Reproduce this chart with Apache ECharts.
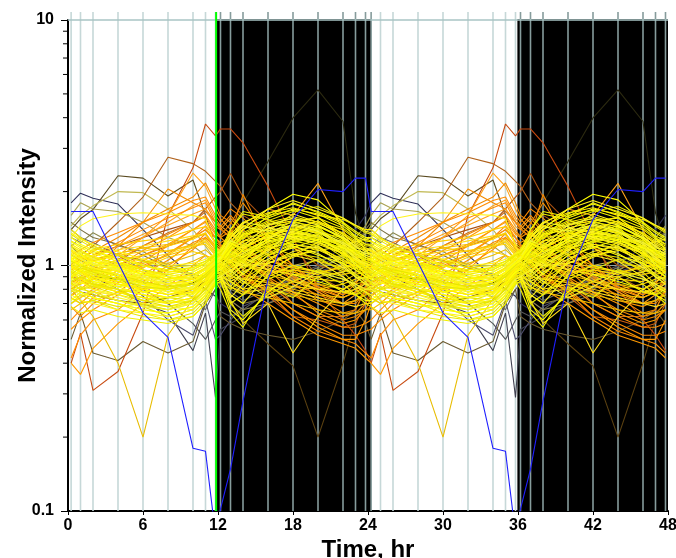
<!DOCTYPE html>
<html><head><meta charset="utf-8">
<script src="https://cdn.jsdelivr.net/npm/echarts@6/dist/echarts.min.js"></script>
<style>html,body{margin:0;padding:0;background:#fff}#c{width:676px;height:558px}</style>
</head><body><div id="c"></div>
<script>
// sampling times within one 24 h cycle (data are double-plotted over 48 h)
const sampleTimes = [0.25,1,2,4,6,8,10,11,11.8,12.2,13,14,16,18,20,22,23,23.8];
const xTickLabels = [0,6,12,18,24,30,36,42,48];
const yTickLabels = [0.1,1,10];
const darkPeriods = [[11.9,24.25],[35.95,48]];
const lightsOffTime = 11.85;
const minorTickValues = [0.2,0.3,0.4,0.5,0.6,0.7,0.8,0.9,2,3,4,5,6,7,8,9];

const yellowLines = [
 [1.05,0.98,0.92,0.86,0.80,0.76,0.82,0.88,0.97,1.02,1.08,1.18,1.32,1.41,1.36,1.22,1.12,1.06],
 [0.92,0.88,0.83,0.78,0.74,0.71,0.77,0.84,0.93,0.96,1.02,1.12,1.28,1.46,1.38,1.20,1.05,0.98],
 [1.12,1.06,1.00,0.92,0.85,0.82,0.86,0.90,1.00,1.05,1.15,1.25,1.42,1.50,1.44,1.30,1.20,1.14],
 [0.85,0.80,0.78,0.72,0.69,0.66,0.70,0.78,0.90,0.92,0.95,1.05,1.20,1.32,1.30,1.12,0.98,0.90],
 [1.20,1.12,1.04,0.95,0.88,0.84,0.88,0.94,1.04,1.08,1.20,1.32,1.48,1.55,1.48,1.36,1.26,1.20],
 [0.98,1.02,0.90,0.82,0.84,0.76,0.80,0.92,0.98,1.00,0.92,1.10,1.25,1.30,1.38,1.18,1.08,1.00],
 [1.00,0.92,0.95,0.88,0.78,0.80,0.74,0.86,1.02,1.06,1.12,1.02,1.36,1.28,1.44,1.16,1.15,1.02],
 [0.88,0.95,0.85,0.80,0.76,0.72,0.70,0.82,0.95,0.98,0.88,0.96,1.18,1.36,1.26,1.08,1.02,0.94],
 [1.15,1.08,1.10,0.98,0.90,0.86,0.92,0.96,1.06,1.10,1.22,1.18,1.38,1.62,1.50,1.32,1.18,1.16],
 [0.95,0.90,0.86,0.82,0.88,0.78,0.84,0.90,1.00,1.04,0.98,1.08,1.22,1.34,1.28,1.26,1.12,1.04],
 [1.08,1.00,0.94,0.96,0.84,0.82,0.78,0.92,1.04,1.06,1.16,1.26,1.30,1.48,1.58,1.28,1.14,1.10],
 [0.80,0.78,0.74,0.70,0.66,0.64,0.68,0.76,0.88,0.90,0.86,0.92,1.10,1.22,1.18,1.02,0.92,0.86],
 [1.25,1.18,1.12,1.04,0.96,0.90,0.94,1.00,1.08,1.12,1.26,1.40,1.56,1.70,1.62,1.45,1.32,1.26],
 [0.96,0.92,0.98,0.90,0.82,0.86,0.80,0.88,0.96,0.98,1.06,0.98,1.12,1.26,1.34,1.10,1.06,1.00],
 [1.02,1.08,0.96,0.92,0.90,0.80,0.86,0.94,1.00,1.02,0.94,1.04,1.30,1.38,1.30,1.24,1.10,1.04],
 [0.90,0.86,0.82,0.76,0.72,0.74,0.72,0.80,0.92,0.94,1.00,1.10,1.24,1.30,1.42,1.16,1.00,0.94],
 [1.10,1.04,0.98,0.90,0.86,0.78,0.82,0.90,0.98,1.04,1.10,1.22,1.36,1.44,1.36,1.30,1.16,1.12],
 [0.86,0.82,0.80,0.74,0.70,0.68,0.66,0.74,0.86,0.88,0.82,0.94,1.06,1.20,1.12,0.98,0.90,0.88],
 [1.30,1.22,1.16,1.06,1.00,0.94,0.98,1.02,1.10,1.14,1.30,1.44,1.62,1.78,1.66,1.50,1.38,1.30],
 [0.94,1.00,0.92,0.86,0.80,0.82,0.84,0.90,0.98,1.00,1.08,1.14,1.20,1.28,1.24,1.12,1.04,0.98],
 [1.04,0.96,1.02,0.94,0.86,0.80,0.76,0.86,0.98,1.00,1.04,1.16,1.42,1.36,1.32,1.20,1.12,1.06],
 [0.78,0.82,0.76,0.72,0.68,0.62,0.66,0.74,0.86,0.88,0.92,1.00,1.16,1.26,1.20,1.04,0.90,0.84],
 [1.16,1.10,1.06,1.00,0.92,0.88,0.90,0.98,1.06,1.08,1.18,1.30,1.46,1.52,1.56,1.34,1.24,1.18],
 [0.92,0.94,0.88,0.80,0.78,0.74,0.76,0.86,0.94,0.96,0.90,1.00,1.14,1.40,1.30,1.14,1.00,0.96],
 [1.06,1.12,1.00,0.98,0.92,0.86,0.90,0.96,1.02,1.06,1.14,1.08,1.26,1.32,1.26,1.18,1.14,1.08],
 [0.84,0.80,0.84,0.78,0.72,0.70,0.72,0.80,0.90,0.92,0.98,1.06,1.18,1.24,1.36,1.10,0.96,0.90],
 [1.00,0.96,0.90,0.84,0.82,0.78,0.80,0.88,0.96,1.00,1.10,1.20,1.30,1.36,1.30,1.20,1.08,1.02],
 [0.74,0.70,0.72,0.66,0.62,0.60,0.64,0.72,0.84,0.86,0.80,0.88,1.02,1.12,1.08,0.94,0.84,0.78],
 [1.22,1.16,1.08,1.02,0.94,0.92,0.88,0.98,1.06,1.10,1.22,1.34,1.50,1.58,1.50,1.40,1.28,1.22],
 [0.96,0.90,0.94,0.88,0.84,0.78,0.82,0.92,1.00,1.02,1.06,1.12,1.28,1.48,1.40,1.22,1.06,1.00],
 [1.10,1.02,0.96,0.90,0.84,0.80,0.86,0.92,1.02,1.06,1.20,1.40,1.70,1.95,1.85,1.50,1.30,1.16],
 [0.82,0.78,0.74,0.70,0.64,0.60,0.62,0.70,0.86,0.80,0.64,0.56,0.82,0.74,0.90,0.78,0.76,0.80],
 [1.30,1.45,1.55,1.62,1.64,1.62,1.60,1.55,1.20,1.10,1.05,1.00,1.02,1.10,1.15,1.20,1.25,1.28],
 [0.70,0.76,0.72,0.68,0.70,0.66,0.72,0.80,0.92,0.94,0.70,0.62,0.76,0.86,0.96,0.90,0.80,0.74],
 [1.40,1.30,1.20,1.10,1.00,0.94,0.96,1.02,1.12,1.16,1.34,1.50,1.64,1.72,1.60,1.54,1.46,1.40],
 [1.18,1.10,1.02,0.96,0.90,0.84,0.80,0.88,1.00,1.06,1.30,1.50,1.44,1.30,1.24,1.16,1.10,1.14],
 [0.88,0.84,0.90,0.84,0.78,0.74,0.78,0.86,0.94,0.98,1.16,1.34,1.40,1.20,1.10,1.02,0.96,0.90],
 [1.02,0.96,0.92,0.88,0.92,0.86,0.90,0.96,1.04,1.10,1.40,1.62,1.54,1.40,1.30,1.20,1.10,1.04],
 [0.76,0.72,0.70,0.66,0.64,0.62,0.66,0.76,0.88,0.90,0.76,0.70,0.92,1.10,1.04,0.90,0.82,0.78],
 [1.34,1.26,1.18,1.10,1.04,0.98,1.00,1.04,1.10,1.12,1.22,1.36,1.52,1.66,1.74,1.56,1.44,1.36],
 [0.98,0.94,0.90,0.86,0.80,0.76,0.78,0.86,0.96,1.00,0.86,0.80,1.04,1.22,1.16,1.04,1.00,0.98],
 [1.08,1.14,1.06,1.00,0.94,0.90,0.94,1.00,1.06,1.08,1.26,1.20,1.46,1.56,1.46,1.30,1.20,1.10],
 [0.90,0.96,0.86,0.82,0.76,0.70,0.74,0.84,0.94,0.96,1.04,0.92,1.10,1.18,1.28,1.14,1.02,0.92],
 [1.20,1.14,1.08,1.02,0.96,0.92,0.96,1.02,1.10,1.14,1.36,1.28,1.60,1.68,1.56,1.42,1.30,1.22],
 [0.82,0.86,0.80,0.76,0.70,0.68,0.70,0.78,0.90,0.92,0.74,0.84,1.02,1.14,1.20,1.00,0.90,0.84],
 [1.04,1.00,0.96,0.92,0.86,0.82,0.84,0.92,1.00,1.04,1.18,1.30,1.34,1.52,1.40,1.26,1.14,1.06],
 [0.94,0.88,0.84,0.78,0.74,0.70,0.74,0.82,0.92,0.94,0.82,0.76,0.96,1.08,1.18,1.06,0.98,0.94],
 [1.12,1.06,1.02,0.96,0.90,0.86,0.90,0.96,1.04,1.08,1.24,1.44,1.38,1.46,1.38,1.24,1.16,1.12],
 [0.72,0.78,0.74,0.70,0.66,0.64,0.68,0.76,0.86,0.88,0.66,0.60,0.78,0.92,0.86,0.80,0.76,0.72],
 [1.26,1.20,1.14,1.06,1.00,0.96,0.98,1.04,1.12,1.16,1.40,1.66,1.58,1.80,1.64,1.48,1.36,1.28],
 [1.00,1.04,0.98,0.92,0.88,0.84,0.86,0.94,1.02,1.04,0.96,1.02,1.16,1.30,1.22,1.12,1.06,1.02],
 [0.86,0.90,0.84,0.80,0.72,0.68,0.72,0.80,0.90,0.92,1.10,1.04,0.88,0.96,1.06,0.96,0.92,0.88],
 [1.14,1.08,1.04,1.00,0.94,0.88,0.92,0.98,1.06,1.10,1.04,1.16,1.34,1.40,1.52,1.34,1.22,1.16],
 [0.80,0.76,0.78,0.72,0.68,0.66,0.70,0.78,0.88,0.90,0.96,0.86,0.74,0.82,0.94,0.88,0.84,0.80],
 [1.06,1.00,1.04,0.98,0.92,0.90,0.86,0.94,1.02,1.06,1.24,1.14,1.28,1.34,1.46,1.28,1.16,1.08],
 [0.68,0.64,0.66,0.62,0.60,0.58,0.62,0.70,0.84,0.86,0.70,0.76,0.90,1.00,0.94,0.84,0.76,0.70],
 [1.36,1.28,1.22,1.14,1.06,1.00,1.02,1.06,1.12,1.14,1.30,1.48,1.70,1.84,1.70,1.56,1.46,1.38],
 [0.92,0.98,0.94,0.88,0.82,0.80,0.84,0.90,0.98,1.00,1.12,1.22,1.10,1.24,1.30,1.16,1.04,0.96],
 [1.00,0.94,0.88,0.84,0.80,0.76,0.80,0.88,0.98,1.02,0.92,0.84,1.20,1.10,1.24,1.12,1.04,1.00]
];
const goldLines = [
 [0.90,0.95,1.00,1.05,1.10,1.15,1.20,1.22,1.10,1.05,0.95,0.88,0.85,0.82,0.80,0.84,0.88,0.90],
 [0.80,0.84,0.88,0.95,1.02,1.10,1.18,1.25,1.12,1.08,1.02,0.92,0.86,0.80,0.76,0.74,0.78,0.80],
 [1.00,1.04,1.10,1.16,1.20,1.26,1.32,1.35,1.18,1.15,1.10,1.02,0.96,0.92,0.90,0.94,0.98,1.00],
 [0.76,0.80,0.82,0.86,0.90,0.96,1.04,1.10,1.02,0.98,0.92,0.86,0.80,0.76,0.72,0.70,0.72,0.76],
 [0.94,0.88,0.96,1.02,0.98,1.08,1.14,1.10,1.02,1.04,1.12,1.06,1.00,0.94,0.88,0.86,0.92,0.94],
 [1.06,1.10,1.04,1.12,1.18,1.14,1.22,1.28,1.14,1.12,1.20,1.10,1.04,0.98,0.94,0.98,1.02,1.06],
 [0.70,0.74,0.78,0.76,0.82,0.88,0.92,0.98,0.94,0.92,0.86,0.80,0.84,0.78,0.74,0.70,0.68,0.70],
 [0.86,0.90,0.94,0.98,1.04,1.02,1.10,1.16,1.06,1.02,0.98,1.04,0.92,0.86,0.84,0.80,0.84,0.86],
 [1.12,1.06,1.16,1.22,1.26,1.30,1.40,1.44,1.22,1.18,1.08,1.00,0.94,0.96,0.92,1.00,1.06,1.12],
 [0.66,0.70,0.72,0.78,0.80,0.84,0.88,0.92,0.90,0.88,0.82,0.78,0.74,0.70,0.66,0.64,0.64,0.66],
 [0.90,0.86,0.82,0.80,0.76,0.74,0.78,0.84,0.92,0.90,0.72,0.58,0.70,0.44,0.62,0.80,0.86,0.90],
 [0.80,0.72,0.62,0.40,0.20,0.52,0.73,0.85,0.92,0.88,0.82,0.78,0.80,0.86,0.80,0.78,0.76,0.78],
 [1.00,0.96,1.04,1.10,1.14,1.20,1.28,1.36,1.16,1.10,1.30,1.46,1.32,1.18,1.04,0.98,1.00,1.02],
 [0.96,1.00,1.06,1.12,1.18,1.22,1.30,1.34,1.16,1.12,1.34,1.24,1.10,1.00,0.94,0.92,0.94,0.96],
 [0.84,0.88,0.92,1.00,1.06,1.12,1.20,1.26,1.10,1.06,1.16,1.08,0.96,0.86,0.80,0.78,0.80,0.84]
];
const orangeLines = [
 [0.75,0.80,0.88,1.00,1.15,1.30,1.50,1.60,1.40,1.30,1.20,1.05,0.90,0.78,0.70,0.62,0.64,0.70],
 [0.60,0.66,0.74,0.85,0.98,1.12,1.30,1.45,1.30,1.22,1.10,0.98,0.84,0.70,0.62,0.56,0.56,0.58],
 [0.90,0.96,1.04,1.15,1.30,1.50,1.75,1.85,1.55,1.45,1.35,1.20,1.02,0.90,0.82,0.76,0.80,0.86],
 [0.68,0.62,0.70,0.78,0.92,1.05,1.24,1.30,1.20,1.16,1.22,1.04,0.88,0.76,0.66,0.60,0.62,0.66],
 [0.82,0.88,0.80,0.96,1.10,1.22,1.40,1.52,1.34,1.30,1.38,1.18,0.98,0.84,0.72,0.68,0.72,0.78],
 [0.55,0.60,0.66,0.76,0.86,1.00,1.16,1.30,1.18,1.12,1.00,0.90,0.78,0.66,0.58,0.52,0.52,0.54],
 [0.85,0.90,0.98,1.10,1.30,1.60,2.38,2.10,1.70,1.55,1.40,1.20,1.00,0.88,0.80,0.74,0.78,0.82],
 [0.80,0.86,0.96,1.20,1.50,2.05,1.80,1.70,1.50,1.42,1.30,1.95,1.20,0.84,0.76,0.70,0.72,0.76],
 [0.40,0.36,0.46,0.58,0.70,0.82,1.00,1.10,1.05,1.00,0.90,0.80,0.70,0.60,0.52,0.48,0.46,0.42],
 [0.42,0.52,0.60,0.66,0.80,0.96,1.20,1.35,1.20,1.15,1.05,0.92,0.78,0.62,0.54,0.50,0.48,0.44],
 [0.90,0.86,0.84,0.80,0.78,0.80,0.86,0.92,1.00,1.04,1.20,1.40,1.70,1.60,2.16,1.40,1.10,0.96],
 [1.00,1.06,1.14,1.30,1.50,1.70,1.90,2.17,1.80,1.60,1.50,1.30,1.10,0.90,0.74,0.64,0.66,0.80],
 [0.70,0.74,0.80,0.90,1.00,1.10,1.30,1.40,1.25,1.20,1.10,0.96,0.80,0.66,0.56,0.50,0.50,0.60],
 [1.10,1.16,1.24,1.36,1.50,1.64,1.84,1.90,1.60,1.50,1.70,1.56,1.24,1.00,0.84,0.76,0.84,0.96],
 [0.96,1.00,1.08,1.20,1.34,1.46,1.62,1.70,1.44,1.40,1.56,1.36,1.10,0.92,0.78,0.70,0.76,0.86],
 [0.84,0.90,0.96,1.06,1.20,1.34,1.50,1.58,1.36,1.32,1.48,1.80,1.30,1.00,0.80,0.70,0.70,0.78],
 [0.74,0.70,0.78,0.88,1.04,1.20,1.40,1.50,1.30,1.24,1.30,1.14,0.96,0.78,0.64,0.58,0.60,0.66],
 [1.00,1.04,1.10,1.24,1.40,1.56,1.72,1.80,1.50,1.44,1.60,1.40,1.16,0.96,0.82,0.74,0.78,0.90]
];
const rustLines = [
 [0.40,0.53,0.31,0.37,0.64,1.60,2.50,3.77,3.37,3.60,3.60,3.16,2.10,1.30,0.80,0.60,0.52,0.45],
 [1.00,1.10,1.20,1.50,1.90,2.76,2.60,2.42,2.20,2.10,1.80,1.60,1.40,1.20,0.90,0.80,0.85,0.95],
 [1.10,1.05,1.10,1.20,1.30,1.40,1.50,1.70,1.90,2.00,2.37,1.90,1.50,1.20,1.00,0.95,1.00,1.05],
 [0.80,0.84,0.90,1.00,1.10,1.20,1.30,1.40,1.30,1.20,1.00,0.90,0.75,0.62,0.60,0.56,0.58,0.70],
 [0.90,0.88,0.94,1.04,1.20,1.36,1.50,1.66,1.50,1.40,1.30,1.10,0.90,0.70,0.62,0.62,0.66,0.80]
];
const oliveLines = [
 [1.40,1.55,1.69,2.32,2.27,1.92,2.23,1.60,1.20,1.10,1.00,0.90,0.80,0.78,0.82,0.90,1.00,1.20],
 [1.60,1.80,1.70,1.66,1.50,1.30,1.20,1.10,1.00,0.95,0.85,0.78,0.80,0.86,0.95,1.10,1.30,1.45],
 [1.30,1.24,1.36,1.20,1.14,1.00,0.92,0.90,0.95,0.92,0.80,0.76,0.82,0.90,0.98,1.08,1.18,1.26],
 [1.50,1.40,1.30,1.22,1.10,0.98,0.90,0.84,0.88,0.86,0.76,0.70,0.74,0.80,0.90,1.00,1.20,1.40],
 [0.50,0.64,0.44,0.41,0.49,0.44,0.49,0.70,0.80,0.62,0.58,0.55,0.52,0.50,0.54,0.60,0.66,0.58],
 [0.80,0.78,0.76,0.72,0.70,0.74,0.80,0.86,0.90,0.80,0.70,0.60,0.48,0.39,0.20,0.40,0.60,0.75],
 [1.00,0.95,0.90,0.88,0.85,0.82,0.85,0.90,0.95,1.00,1.30,1.80,2.65,3.99,5.19,3.86,1.64,1.20],
 [1.45,1.60,1.75,2.00,1.98,1.70,1.40,1.20,1.05,0.98,0.90,0.88,0.92,1.00,1.05,1.10,1.20,1.35],
 [1.20,1.30,1.20,1.10,1.05,0.90,0.84,0.80,0.86,0.84,0.72,0.66,0.70,0.76,0.84,0.96,1.06,1.14]
];
const greyLines = [
 [1.80,1.97,1.88,1.78,1.40,1.10,0.90,0.80,0.75,0.70,0.66,0.62,0.70,0.80,1.00,1.20,1.40,1.60],
 [1.20,1.10,1.00,0.90,0.80,0.70,0.58,0.50,0.60,0.65,0.62,0.66,0.78,0.90,1.00,1.10,1.20,1.25],
 [1.40,1.30,1.24,1.10,0.96,0.84,0.74,0.66,0.80,0.84,0.78,0.72,0.80,0.88,0.96,1.08,1.24,1.36],
 [1.00,0.95,0.90,0.80,0.70,0.64,0.45,0.64,0.29,0.55,0.58,0.62,0.70,0.80,0.90,1.00,1.05,1.02],
 [1.10,1.05,0.98,0.90,0.75,0.60,0.52,0.72,0.50,0.52,0.60,0.68,0.76,0.86,0.94,1.02,1.08,1.10]
];
const blueLine = [1.66,1.66,1.66,1.03,0.64,0.51,0.18,0.175,0.08,0.102,0.148,0.28,0.88,1.54,2.04,2.00,2.27,2.27];

// ---- styles (kept apart from data) ----
const yellowPalette = ['#ffff00','#f2f000','#fff41a','#e8e600','#ffee00','#f5f530'];
const goldPalette = ['#ffd000','#f5c000','#ffdc1a','#e8bc00'];
const orangePalette = ['#ff9900','#ff8c00','#ffa31a','#f28a00'];
const rustPalette = ['#c84a10','#b0601a','#a85010','#d06010','#c87020'];
const olivePalette = ['#5a4a20','#a8a050','#8c8a50','#7a7040','#6b5a30','#5a4010','#2c2a10','#c0b850','#908858'];
const greyPalette = ['#303058','#555555','#6a6a6a','#404050','#505070'];
const blueColor = '#2020ff';

function doublePlot(vals){
  const d = [];
  for (let rep = 0; rep < 2; rep++)
    for (let i = 0; i < sampleTimes.length; i++) d.push([sampleTimes[i] + 24*rep, vals[i]]);
  return d;
}
function lineSeries(vals, color){
  return {type:'line', data: doublePlot(vals), symbol:'none', z:5, silent:true,
    lineStyle:{color: color, width:1.1}, clip:true, animation:false};
}
const gridTimes = [];
for (let rep = 0; rep < 2; rep++) sampleTimes.forEach(t => gridTimes.push([t + 24*rep, 1]));
function inDark(t){ return darkPeriods.some(p => t >= p[0] && t <= p[1]); }

const series = [];
series.push({type:'custom', z:1, silent:true, animation:false,
  data: darkPeriods.map(p => [p[0], 1, p[1]]),
  renderItem: function(params, api){
    const a = api.coord([api.value(0), 10]);
    const b = api.coord([api.value(2), 0.1]);
    return {type:'rect', shape:{x:a[0], y:a[1]-1, width:b[0]-a[0], height:b[1]-a[1]+1}, style:{fill:'#000'}};
  }});
series.push({type:'custom', z:2, silent:true, animation:false, data: gridTimes,
  renderItem: function(params, api){
    const t = api.value(0);
    const a = api.coord([t, 10]);
    const b = api.coord([t, 0.1]);
    return {type:'line', shape:{x1:a[0], y1:a[1]-8, x2:b[0], y2:b[1]},
      style:{stroke: inDark(t) ? '#869c9c' : '#c6d8d8', lineWidth:1.6}};
  }});
series.push({type:'custom', z:2, silent:true, animation:false, data: [[0,10],[0,1]],
  renderItem: function(params, api){
    const v = api.value(1);
    const a = api.coord([0, v]);
    const b = api.coord([48, v]);
    return {type:'line', shape:{x1:a[0], y1:a[1], x2:b[0], y2:b[1]},
      style:{stroke: v === 10 ? '#a9c4c4' : '#8fa0a0', lineWidth: v === 10 ? 1.6 : 1}};
  }});
series.push({type:'custom', z:6, silent:true, animation:false, clip:false,
  data: minorTickValues.map(v => [0, v]),
  renderItem: function(params, api){
    const a = api.coord([0, api.value(1)]);
    return {type:'line', shape:{x1:a[0]-5, y1:a[1], x2:a[0], y2:a[1]}, style:{stroke:'#000', lineWidth:1}};
  }});

greyLines.forEach((v,i) => series.push(lineSeries(v, greyPalette[i % greyPalette.length])));
oliveLines.forEach((v,i) => series.push(lineSeries(v, olivePalette[i % olivePalette.length])));
rustLines.forEach((v,i) => series.push(lineSeries(v, rustPalette[i % rustPalette.length])));
orangeLines.forEach((v,i) => series.push(lineSeries(v, orangePalette[i % orangePalette.length])));
goldLines.forEach((v,i) => series.push(lineSeries(v, goldPalette[i % goldPalette.length])));
yellowLines.forEach((v,i) => series.push(lineSeries(v, yellowPalette[i % yellowPalette.length])));
series.push(lineSeries(blueLine, blueColor));
series.push({type:'custom', z:7, silent:true, animation:false, data: [[lightsOffTime, 1]],
  renderItem: function(params, api){
    const a = api.coord([api.value(0), 10]);
    const b = api.coord([api.value(0), 0.1]);
    return {type:'line', shape:{x1:a[0], y1:a[1]-8, x2:b[0], y2:b[1]}, style:{stroke:'#00ff00', lineWidth:2}};
  }});

const chart = echarts.init(document.getElementById('c'), null, {renderer:'canvas'});
chart.setOption({
  animation:false,
  backgroundColor:'#ffffff',
  grid:{left:68, right:8, top:20, bottom:47, containLabel:false, outerBoundsMode:'none'},
  xAxis:{type:'value', min:xTickLabels[0], max:xTickLabels[xTickLabels.length-1], interval:6,
    name:'Time, hr', nameLocation:'middle', nameGap:27, nameMoveOverlap:false,
    nameTextStyle:{fontFamily:'Liberation Sans', fontWeight:'bold', fontSize:24, color:'#000'},
    axisLine:{show:true, onZero:false, lineStyle:{color:'#000', width:2}},
    axisTick:{show:true, length:4, lineStyle:{color:'#000', width:1}},
    axisLabel:{fontFamily:'Liberation Sans', fontWeight:'bold', fontSize:16, color:'#000', margin:7,
      formatter: v => xTickLabels.includes(v) ? String(v) : ''},
    splitLine:{show:false}},
  yAxis:{type:'log', logBase:10, min:yTickLabels[0], max:yTickLabels[yTickLabels.length-1],
    name:'Normalized Intensity', nameLocation:'middle', nameGap:28, nameRotate:90, nameMoveOverlap:false,
    nameTextStyle:{fontFamily:'Liberation Sans', fontWeight:'bold', fontSize:24, color:'#000'},
    axisLine:{show:true, onZero:false, lineStyle:{color:'#000', width:2}},
    axisTick:{show:true, length:7, lineStyle:{color:'#000', width:1}},
    axisLabel:{fontFamily:'Liberation Sans', fontWeight:'bold', fontSize:16, color:'#000', margin:14,
      formatter: v => String(v)},
    splitLine:{show:false}},
  series: series
});
</script></body></html>
